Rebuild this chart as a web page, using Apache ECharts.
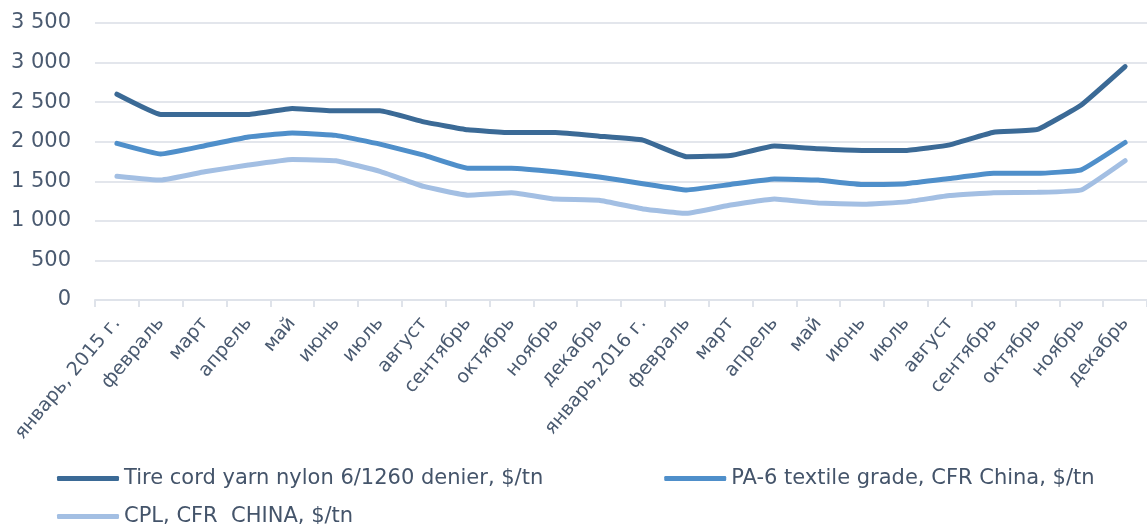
<!DOCTYPE html>
<html>
<head>
<meta charset="utf-8">
<script src="https://cdn.jsdelivr.net/npm/echarts@6/dist/echarts.min.js"></script>
<style>
  html, body { margin: 0; padding: 0; background: #fff; }
  #chart { width: 1147px; height: 524px; }
</style>
</head>
<body>
<div id="chart"></div>
<script>
// подписи месяцев
var months = ['январь, 2015 г.', 'февраль', 'март', 'апрель', 'май', 'июнь', 'июль', 'август',
  'сентябрь', 'октябрь', 'ноябрь', 'декабрь', 'январь,2016 г.', 'февраль', 'март', 'апрель',
  'май', 'июнь', 'июль', 'август', 'сентябрь', 'октябрь', 'ноябрь', 'декабрь']

var seriesNames = ['Tire cord yarn nylon 6/1260 denier, $/tn', 'PA-6 textile grade, CFR China, $/tn', 'CPL, CFR  CHINA, $/tn']

var tireCord = [2600, 2345, 2345, 2345, 2420, 2390, 2390, 2250, 2150, 2115, 2115, 2070,
  2020, 1810, 1825, 1945, 1910, 1890, 1890, 1960, 2120, 2155, 2465, 2950]
var pa6 = [1980, 1845, 1950, 2060, 2110, 2080, 1970, 1830, 1665, 1665, 1620, 1555,
  1470, 1390, 1460, 1530, 1515, 1460, 1470, 1535, 1600, 1600, 1645, 1990]
var cpl = [1565, 1515, 1620, 1705, 1775, 1760, 1625, 1435, 1325, 1355, 1275, 1260,
  1150, 1095, 1200, 1275, 1225, 1210, 1240, 1320, 1355, 1360, 1390, 1760]

var colors = ['#3b6a96', '#4f8fca', '#a3bfe3']

function fmt(v) {
  return String(v).replace(/\B(?=(\d{3})+(?!\d))/g, ' ')
}

var chart = echarts.init(document.getElementById('chart'))

var legendText = { color: '#44546a', fontSize: 21, fontFamily: 'DejaVu Sans' }

function makeSeries(name, data, color) {
  return {
    name: name,
    type: 'line',
    data: data,
    symbol: 'none',
    smooth: 0.1,
    lineStyle: { width: 5, color: color, cap: 'round', join: 'round' },
    itemStyle: { color: color }
  }
}

var option = {
  animation: false,
  color: colors,
  grid: { left: 95, right: -8, top: 23, bottom: 224 },
  legend: [
    {
      data: [seriesNames[0], seriesNames[1]],
      left: 52, top: 463,
      icon: 'roundRect', itemWidth: 62, itemHeight: 5, itemGap: 121,
      textStyle: legendText
    },
    {
      data: [seriesNames[2]],
      left: 52, top: 501,
      icon: 'roundRect', itemWidth: 62, itemHeight: 5,
      textStyle: legendText
    }
  ],
  xAxis: {
    type: 'category',
    data: months,
    boundaryGap: true,
    axisLine: { lineStyle: { color: '#dfe3ea', width: 2 } },
    axisTick: { show: true, length: 7, lineStyle: { color: '#dfe3ea', width: 2 } },
    axisLabel: {
      rotate: 50, interval: 0, margin: 20,
      color: '#4a5a70', fontSize: 19, fontFamily: 'DejaVu Sans'
    }
  },
  yAxis: {
    type: 'value',
    min: 0, max: 3500, interval: 500,
    axisLine: { show: false },
    axisTick: { show: false },
    splitLine: { lineStyle: { color: '#e3e6ec', width: 2 } },
    axisLabel: {
      margin: 24, color: '#4a5a70', fontSize: 21, fontFamily: 'DejaVu Sans',
      formatter: fmt
    }
  },
  series: [
    makeSeries(seriesNames[0], tireCord, colors[0]),
    makeSeries(seriesNames[1], pa6, colors[1]),
    makeSeries(seriesNames[2], cpl, colors[2])
  ]
}

chart.setOption(option)
</script>
</body>
</html>
